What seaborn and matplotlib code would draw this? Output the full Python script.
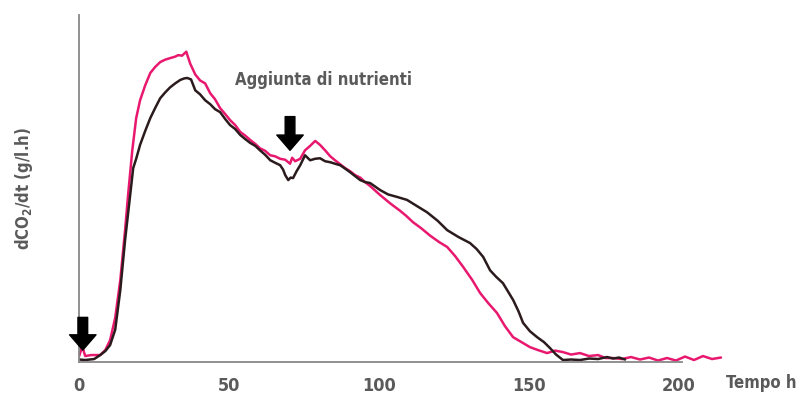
import numpy as np
import pandas as pd
import seaborn as sns
import matplotlib.pyplot as plt

# curves (x in hours, y in axis units 0..7)
pink_t = [0, 1, 2, 4, 7, 8.7, 10.3, 12, 13.7, 15.3, 16.3, 17.7, 19, 20.3, 22, 23.7, 25.3, 27,
          28.7, 30.3, 32, 33, 34.3, 35.7, 37, 38.7, 40.3, 42, 43.7, 45.3, 47, 48.7, 50.3,
          52, 53.7, 55.3, 57, 58.7, 60.3, 62, 63.7, 65.3, 67, 68.7, 70.3, 71, 72, 73.7,
          75.3, 77, 78.7, 80.3, 82, 83.7, 85.3, 87, 88.7, 90.3, 92, 93.7, 95.3, 97, 100.3,
          103.7, 107, 109, 111.3, 114, 117, 120, 122.7, 125.3, 128, 131, 133.7, 136.5, 139.3,
          142, 144.7, 147.5, 150.3, 153, 156, 158.7, 161.3, 164, 167, 170, 173, 175.5, 178,
          181, 184, 187, 190, 193, 196, 199, 202, 205, 208, 211, 214]
pink_v = [0.12, 0.32, 0.12, 0.14, 0.14, 0.24, 0.44, 0.89, 1.65, 2.66, 3.37, 4.27, 4.92, 5.28,
          5.58, 5.83, 5.95, 6.05, 6.1, 6.13, 6.16, 6.19, 6.18, 6.26, 6.02, 5.8, 5.68, 5.62,
          5.42, 5.3, 5.12, 5.0, 4.88, 4.78, 4.64, 4.57, 4.48, 4.4, 4.31, 4.26, 4.17, 4.15,
          4.1, 4.08, 4.0, 4.12, 4.05, 4.1, 4.27, 4.36, 4.46, 4.38, 4.27, 4.15, 4.07, 3.99,
          3.91, 3.85, 3.77, 3.72, 3.63, 3.55, 3.37, 3.2, 3.05, 2.95, 2.82, 2.7, 2.55, 2.42,
          2.32, 2.14, 1.92, 1.66, 1.39, 1.18, 0.99, 0.72, 0.5, 0.4, 0.3, 0.24, 0.18, 0.23,
          0.2, 0.15, 0.18, 0.12, 0.14, 0.08, 0.08, 0.06, 0.1, 0.05, 0.09, 0.03, 0.08, 0.03,
          0.11, 0.04, 0.12, 0.06, 0.09]

black_t = [0, 2, 5, 7, 8.7, 10.3, 12, 13.7, 15.3, 17, 18, 19, 20.3, 22, 23.7, 25.3, 27, 28.7,
           30.3, 32, 33.7, 35, 36, 37.3, 38.7, 40.3, 42, 43.7, 45.3, 47, 48.7, 50.3, 52, 53.7,
           55.3, 57, 58.7, 60.3, 62, 63.7, 65.3, 67, 68, 68.7, 69.7, 70.5, 71.3, 72.5, 73.7,
           75.3, 77, 78.7, 80.3, 82, 83.7, 85.3, 87, 88.7, 90.3, 92, 93.7, 95.3, 97, 100.3,
           103, 106, 109.3, 112.5, 116, 119.5, 122.7, 126.5, 130.3, 132.5, 134.7, 137, 139,
           141.3, 143, 144.7, 146.5, 148, 150.3, 152.7, 155, 157, 159, 161.3, 164, 167, 170,
           173, 176, 178, 180, 182]
black_v = [0.05, 0.04, 0.06, 0.14, 0.22, 0.34, 0.65, 1.45, 2.46, 3.37, 3.91, 4.1, 4.38, 4.66,
           4.92, 5.12, 5.32, 5.44, 5.54, 5.62, 5.69, 5.72, 5.73, 5.7, 5.48, 5.4, 5.28, 5.2,
           5.1, 5.04, 4.9, 4.78, 4.7, 4.58, 4.5, 4.42, 4.36, 4.27, 4.18, 4.07, 4.02, 3.97,
           3.88, 3.77, 3.67, 3.72, 3.71, 3.85, 3.97, 4.17, 4.07, 4.1, 4.11, 4.05, 4.03, 4.0,
           3.97, 3.9, 3.83, 3.75, 3.67, 3.63, 3.61, 3.47, 3.38, 3.33, 3.27, 3.15, 3.02, 2.85,
           2.66, 2.52, 2.4, 2.28, 2.12, 1.85, 1.72, 1.59, 1.42, 1.25, 1.02, 0.79, 0.62, 0.5,
           0.4, 0.28, 0.15, 0.04, 0.05, 0.04, 0.07, 0.06, 0.1, 0.07, 0.09, 0.05]

x_ticks = [0, 50, 100, 150, 200]
x_title = "Tempo h"
y_title = "dCO$_2$/dt (g/l.h)"
note = "Aggiunta di nutrienti"

pink = "#e8186f"
dark = "#2b1b1d"
grey = "#5a5a5a"

sns.set_style("white")
plt.rcParams["font.family"] = ["DejaVu Sans"]
plt.rcParams["font.stretch"] = "condensed"
plt.rcParams["mathtext.default"] = "regular"

txt = dict(fontweight="bold", color=grey, fontstretch="condensed")

fig = plt.figure(figsize=(8, 4), dpi=100)
ax = fig.add_axes([0.099, 0.095, 0.806, 0.8675])

df_p = pd.DataFrame({"t": pink_t, "v": pink_v})
df_b = pd.DataFrame({"t": black_t, "v": black_v})
sns.lineplot(data=df_p, x="t", y="v", color=pink, lw=1.8, ax=ax)
sns.lineplot(data=df_b, x="t", y="v", color=dark, lw=1.8, ax=ax)

ax.set_xlim(0, 215)
ax.set_ylim(0, 7)
ax.set_xticks(x_ticks)
ax.set_yticks(range(0, 8))
ax.set_yticklabels([])
for s in ["top", "right"]:
    ax.spines[s].set_visible(False)
for s in ["left", "bottom"]:
    ax.spines[s].set_color("#888888")
    ax.spines[s].set_linewidth(1.3)
ax.spines["bottom"].set_bounds(0, 201)
ax.tick_params(axis="both", direction="out", length=4, color="#888888", width=1)
ax.tick_params(axis="x", labelsize=13, labelcolor=grey, pad=7)
for lab in ax.get_xticklabels():
    lab.set_fontweight("bold")
    lab.set_fontstretch("condensed")

ax.set_xlabel("")
ax.set_ylabel(y_title, fontsize=12, labelpad=24, **txt)
fig.text(0.907, 0.042, x_title, fontsize=12, ha="left", va="center", **txt)
ax.text(52, 5.68, note, fontsize=12, ha="left", va="center", **txt)

arrow = dict(facecolor="black", edgecolor="black", width=7, headwidth=19, headlength=11, shrink=0)
ax.annotate("", xy=(1.2, 0.24), xytext=(1.2, 0.9), arrowprops=arrow)
ax.annotate("", xy=(70.3, 4.27), xytext=(70.3, 4.95), arrowprops=arrow)

fig.savefig("out.png", dpi=100)
